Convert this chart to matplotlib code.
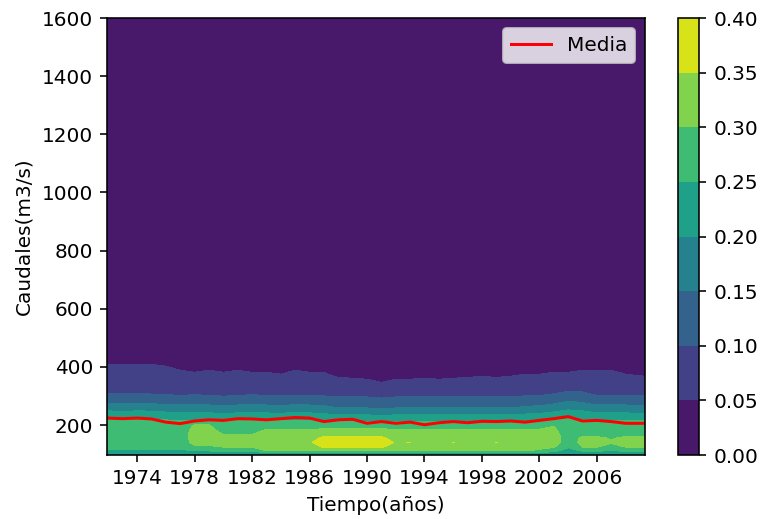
import numpy as np
import matplotlib
matplotlib.use("Agg")
import matplotlib.pyplot as plt

# -------------------------------
# Datos
# -------------------------------
# eje temporal (columnas de la malla)
anios = [1971.9, 1973, 1974, 1975, 1976, 1977, 1978, 1979, 1980, 1981,
         1982, 1983, 1984, 1985, 1986, 1987, 1988, 1989, 1990, 1991,
         1992, 1993, 1994, 1995, 1996, 1997, 1998, 1999, 2000, 2001,
         2002, 2003, 2004, 2005, 2006, 2007, 2008, 2009.35]

# niveles de caudal (filas de la malla), m3/s
caudales = [97, 112, 125, 140, 155, 170, 185, 200, 212, 225, 240,
            255, 270, 290, 310, 340, 370, 400, 430, 500, 1600]

# densidad por anio (un perfil por columna, mismo orden que caudales)
perfiles = [
    [0.19, 0.235, 0.27, 0.28, 0.28, 0.28, 0.28, 0.275, 0.26, 0.245, 0.215, 0.19, 0.16, 0.125, 0.099, 0.08, 0.07, 0.055, 0.04, 0.015, 0.0],     # 1972
    [0.19, 0.235, 0.27, 0.28, 0.28, 0.28, 0.28, 0.275, 0.26, 0.245, 0.212, 0.186, 0.157, 0.122, 0.097, 0.08, 0.068, 0.054, 0.04, 0.015, 0.0],  # 1973
    [0.19, 0.235, 0.27, 0.28, 0.28, 0.28, 0.28, 0.275, 0.26, 0.245, 0.215, 0.19, 0.16, 0.125, 0.099, 0.08, 0.07, 0.055, 0.04, 0.015, 0.0],     # 1974
    [0.19, 0.235, 0.27, 0.28, 0.28, 0.28, 0.28, 0.275, 0.26, 0.245, 0.213, 0.188, 0.156, 0.12, 0.096, 0.08, 0.068, 0.054, 0.04, 0.015, 0.0],   # 1975
    [0.19, 0.235, 0.27, 0.28, 0.28, 0.28, 0.28, 0.275, 0.258, 0.24, 0.208, 0.184, 0.152, 0.116, 0.094, 0.078, 0.065, 0.051, 0.04, 0.015, 0.0], # 1976
    [0.19, 0.235, 0.27, 0.28, 0.28, 0.28, 0.28, 0.275, 0.255, 0.235, 0.203, 0.18, 0.148, 0.112, 0.092, 0.072, 0.058, 0.045, 0.035, 0.015, 0.0],  # 1977
    [0.19, 0.255, 0.295, 0.31, 0.315, 0.315, 0.31, 0.302, 0.255, 0.235, 0.205, 0.183, 0.152, 0.116, 0.094, 0.07, 0.055, 0.042, 0.035, 0.015, 0.0],  # 1978
    [0.19, 0.255, 0.295, 0.31, 0.315, 0.315, 0.31, 0.302, 0.255, 0.235, 0.203, 0.18, 0.148, 0.112, 0.092, 0.072, 0.058, 0.045, 0.035, 0.015, 0.0],  # 1979
    [0.19, 0.26, 0.302, 0.31, 0.31, 0.298, 0.285, 0.275, 0.255, 0.232, 0.2, 0.176, 0.145, 0.109, 0.09, 0.07, 0.055, 0.042, 0.035, 0.015, 0.0],    # 1980
    [0.19, 0.26, 0.302, 0.31, 0.31, 0.298, 0.285, 0.275, 0.255, 0.235, 0.203, 0.18, 0.148, 0.112, 0.092, 0.072, 0.058, 0.045, 0.035, 0.015, 0.0],  # 1981
    [0.19, 0.26, 0.302, 0.31, 0.31, 0.298, 0.285, 0.275, 0.255, 0.236, 0.206, 0.184, 0.152, 0.115, 0.094, 0.07, 0.055, 0.042, 0.035, 0.015, 0.0],  # 1982
    [0.19, 0.302, 0.31, 0.32, 0.32, 0.315, 0.301, 0.285, 0.255, 0.235, 0.203, 0.18, 0.148, 0.112, 0.092, 0.07, 0.055, 0.042, 0.035, 0.015, 0.0],   # 1983
    [0.19, 0.302, 0.31, 0.32, 0.32, 0.315, 0.301, 0.285, 0.255, 0.233, 0.2, 0.177, 0.145, 0.11, 0.09, 0.068, 0.052, 0.04, 0.035, 0.015, 0.0],      # 1984
    [0.19, 0.302, 0.31, 0.32, 0.32, 0.315, 0.301, 0.285, 0.256, 0.237, 0.206, 0.183, 0.15, 0.114, 0.093, 0.072, 0.058, 0.045, 0.035, 0.015, 0.0],  # 1985
    [0.19, 0.302, 0.315, 0.345, 0.335, 0.32, 0.301, 0.285, 0.255, 0.235, 0.203, 0.18, 0.148, 0.112, 0.092, 0.07, 0.055, 0.042, 0.035, 0.015, 0.0],  # 1986
    [0.19, 0.302, 0.36, 0.375, 0.358, 0.335, 0.302, 0.285, 0.253, 0.23, 0.198, 0.172, 0.145, 0.11, 0.091, 0.07, 0.055, 0.042, 0.035, 0.015, 0.0],  # 1987
    [0.19, 0.302, 0.36, 0.375, 0.358, 0.335, 0.302, 0.285, 0.252, 0.22, 0.19, 0.155, 0.135, 0.105, 0.09, 0.065, 0.046, 0.035, 0.03, 0.015, 0.0],   # 1988
    [0.19, 0.302, 0.36, 0.375, 0.358, 0.335, 0.302, 0.285, 0.252, 0.222, 0.193, 0.16, 0.138, 0.107, 0.09, 0.062, 0.045, 0.035, 0.03, 0.015, 0.0],  # 1989
    [0.19, 0.302, 0.36, 0.375, 0.358, 0.335, 0.302, 0.285, 0.252, 0.22, 0.19, 0.155, 0.135, 0.105, 0.09, 0.06, 0.043, 0.035, 0.03, 0.015, 0.0],    # 1990
    [0.19, 0.302, 0.36, 0.375, 0.358, 0.335, 0.302, 0.285, 0.25, 0.218, 0.186, 0.152, 0.13, 0.102, 0.088, 0.053, 0.04, 0.033, 0.03, 0.015, 0.0],   # 1991
    [0.19, 0.302, 0.315, 0.345, 0.335, 0.32, 0.301, 0.285, 0.252, 0.22, 0.19, 0.155, 0.135, 0.105, 0.09, 0.06, 0.043, 0.035, 0.03, 0.015, 0.0],    # 1992
    [0.19, 0.302, 0.33, 0.352, 0.33, 0.315, 0.301, 0.285, 0.252, 0.222, 0.192, 0.158, 0.137, 0.106, 0.09, 0.06, 0.043, 0.035, 0.03, 0.015, 0.0],   # 1993
    [0.19, 0.302, 0.31, 0.32, 0.32, 0.315, 0.301, 0.285, 0.252, 0.22, 0.19, 0.155, 0.135, 0.105, 0.09, 0.062, 0.045, 0.035, 0.03, 0.015, 0.0],     # 1994
    [0.19, 0.302, 0.31, 0.32, 0.32, 0.315, 0.301, 0.285, 0.252, 0.223, 0.194, 0.16, 0.138, 0.107, 0.09, 0.06, 0.043, 0.035, 0.03, 0.015, 0.0],     # 1995
    [0.19, 0.302, 0.33, 0.352, 0.33, 0.315, 0.301, 0.285, 0.252, 0.22, 0.19, 0.155, 0.135, 0.105, 0.09, 0.062, 0.045, 0.035, 0.03, 0.015, 0.0],    # 1996
    [0.19, 0.302, 0.31, 0.32, 0.32, 0.315, 0.301, 0.285, 0.252, 0.222, 0.193, 0.158, 0.137, 0.106, 0.09, 0.065, 0.046, 0.035, 0.03, 0.015, 0.0],   # 1997
    [0.19, 0.302, 0.31, 0.32, 0.32, 0.315, 0.301, 0.285, 0.252, 0.22, 0.19, 0.155, 0.135, 0.105, 0.09, 0.065, 0.049, 0.035, 0.03, 0.015, 0.0],     # 1998
    [0.19, 0.302, 0.33, 0.352, 0.33, 0.315, 0.301, 0.285, 0.252, 0.223, 0.194, 0.16, 0.138, 0.107, 0.09, 0.065, 0.046, 0.035, 0.03, 0.015, 0.0],   # 1999
    [0.19, 0.302, 0.31, 0.32, 0.32, 0.315, 0.301, 0.285, 0.252, 0.22, 0.19, 0.155, 0.135, 0.105, 0.09, 0.065, 0.049, 0.035, 0.03, 0.015, 0.0],     # 2000
    [0.19, 0.302, 0.31, 0.32, 0.32, 0.315, 0.301, 0.285, 0.253, 0.225, 0.196, 0.165, 0.14, 0.109, 0.092, 0.068, 0.052, 0.04, 0.035, 0.015, 0.0],   # 2001
    [0.19, 0.295, 0.31, 0.32, 0.32, 0.315, 0.301, 0.285, 0.254, 0.23, 0.2, 0.172, 0.144, 0.11, 0.092, 0.068, 0.052, 0.04, 0.035, 0.015, 0.0],      # 2002
    [0.19, 0.27, 0.305, 0.315, 0.315, 0.31, 0.305, 0.298, 0.258, 0.238, 0.208, 0.185, 0.155, 0.12, 0.097, 0.07, 0.055, 0.042, 0.035, 0.015, 0.0],  # 2003
    [0.19, 0.22, 0.26, 0.28, 0.285, 0.285, 0.28, 0.275, 0.265, 0.245, 0.222, 0.195, 0.168, 0.138, 0.108, 0.07, 0.055, 0.042, 0.035, 0.015, 0.0],   # 2004
    [0.19, 0.26, 0.302, 0.31, 0.305, 0.292, 0.285, 0.28, 0.262, 0.242, 0.215, 0.19, 0.162, 0.13, 0.104, 0.072, 0.058, 0.045, 0.035, 0.015, 0.0],   # 2005
    [0.19, 0.26, 0.302, 0.31, 0.305, 0.292, 0.285, 0.28, 0.255, 0.235, 0.203, 0.18, 0.148, 0.112, 0.092, 0.072, 0.058, 0.045, 0.035, 0.015, 0.0],   # 2006
    [0.19, 0.25, 0.29, 0.302, 0.298, 0.29, 0.28, 0.275, 0.256, 0.237, 0.206, 0.183, 0.15, 0.114, 0.093, 0.072, 0.058, 0.045, 0.035, 0.015, 0.0],   # 2007
    [0.19, 0.26, 0.302, 0.31, 0.305, 0.292, 0.285, 0.28, 0.255, 0.235, 0.203, 0.18, 0.148, 0.112, 0.092, 0.068, 0.052, 0.04, 0.035, 0.015, 0.0],   # 2008
    [0.19, 0.26, 0.302, 0.31, 0.305, 0.292, 0.285, 0.28, 0.254, 0.233, 0.2, 0.177, 0.146, 0.11, 0.091, 0.065, 0.049, 0.035, 0.03, 0.015, 0.0],     # 2009
]

# caudal medio anual (m3/s)
media = [224, 222, 224, 221, 210, 205, 214, 218, 216, 222,
         221, 218, 222, 226, 224, 212, 218, 220, 206, 212,
         206, 210, 201, 208, 212, 208, 213, 212, 214, 210,
         216, 222, 229, 214, 216, 212, 206, 206]

niveles = [0.0, 0.05, 0.10, 0.15, 0.20, 0.25, 0.30, 0.35, 0.40]
ticks_anio = [1974, 1978, 1982, 1986, 1990, 1994, 1998, 2002, 2006]

# -------------------------------
# Grafico
# -------------------------------
DPI = 144
fig = plt.figure(figsize=(761 / DPI, 519 / DPI), dpi=DPI)
ax = fig.add_axes([0.1406, 0.1233, 0.707, 0.842])
cax = fig.add_axes([0.891, 0.1233, 0.028, 0.842])

Z = np.array(perfiles).T
cs = ax.contourf(anios, caudales, Z, levels=niveles, cmap="viridis")
ax.plot(anios, media, color="red", lw=1.5, label="Media")

ax.set_xlim(1971.9, 2009.35)
ax.set_ylim(97, 1600)
ax.set_xticks(ticks_anio)
ax.set_xticklabels([str(a) for a in ticks_anio])
ax.set_xlabel("Tiempo(años)")
ax.set_ylabel("Caudales(m3/s)")
ax.legend(loc="upper right")

fig.colorbar(cs, cax=cax)

fig.savefig("out.png", dpi=DPI)
